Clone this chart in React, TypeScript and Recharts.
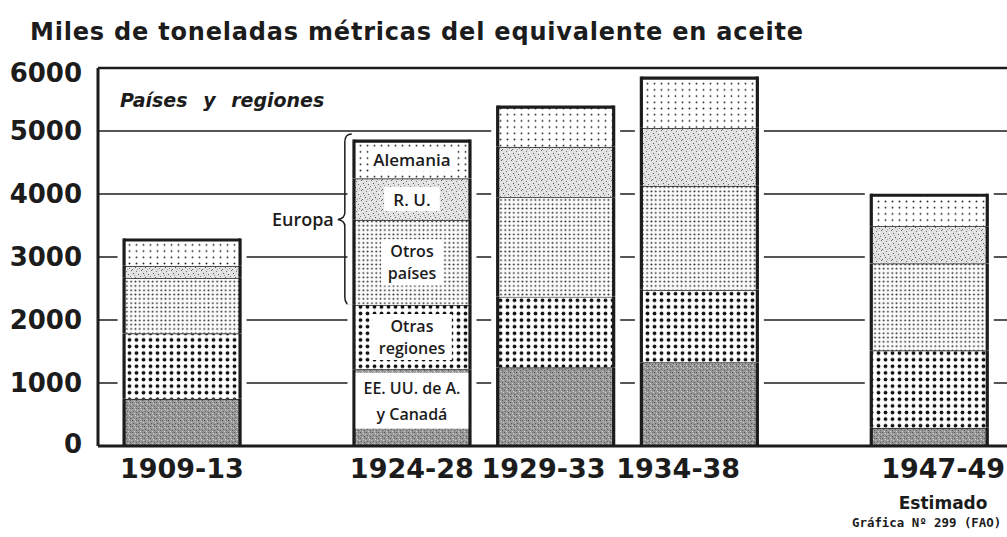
import React from 'react';
import {
  BarChart,
  Bar,
  XAxis,
  YAxis,
  CartesianGrid,
  ReferenceLine,
  ReferenceArea,
  LabelList,
} from 'recharts';

// ---------- data ----------
const periods = ['1909-13', '1924-28', '1929-33', '1934-38', '1947-49'];
const periodNotes = ['', '', '', '', 'Estimado'];
const eeuuCanada = [750, 1220, 1250, 1330, 290];
const otrasRegiones = [1040, 1020, 1120, 1150, 1230];
const otrosPaises = [880, 1350, 1580, 1650, 1380];
const reinoUnido = [190, 660, 800, 920, 590];
const alemania = [410, 590, 630, 790, 490];
const yTicks = [0, 1000, 2000, 3000, 4000, 5000, 6000];

// layout: slot of each period along the horizontal axis (uneven spacing)
const periodSlots = [0, 8, 13, 18, 26];
// layout: horizontal nudge of each period label (px)
const labelNudge = [0, 0, -12, -21, 14];
const labelledPeriod = '1924-28';

const data = periods.map((p, i) => ({
  slot: periodSlots[i],
  period: p,
  us: eeuuCanada[i],
  or: otrasRegiones[i],
  op: otrosPaises[i],
  ru: reinoUnido[i],
  al: alemania[i],
}));

const BAR_SIZE = 116;
const INK = '#1c1c1c';
const LABEL_FONT = '"Open Sans", "DejaVu Sans", sans-serif';
const BOLD_FONT = '"DejaVu Sans", sans-serif';

const LABELLED = periods.indexOf(labelledPeriod);

const textWidth = (s: string, fs: number) => s.length * fs * 0.56;

const makeShape = (fill: string, isTop: boolean, isBottom: boolean) => (props: any) => {
  const { x, y, width, height } = props;
  if (x == null || y == null || !width || height == null) return <g />;
  const gap = 5;
  const top = isTop ? y - gap : y;
  const bottom = isBottom ? y + height - 2 : y + height;
  return (
    <g>
      <rect x={x - gap - 1.5} y={top} width={width + 2 * gap + 3} height={Math.max(0, bottom - top)} fill="#fff" />
      <rect x={x} y={y} width={width} height={height} fill={fill} />
      <line x1={x} x2={x + width} y1={y} y2={y} stroke={INK} strokeWidth={isTop ? 3.2 : 1.8} />
      <line x1={x} x2={x} y1={y - (isTop ? 1.6 : 0)} y2={y + height} stroke={INK} strokeWidth={3.2} />
      <line x1={x + width} x2={x + width} y1={y - (isTop ? 1.6 : 0)} y2={y + height} stroke={INK} strokeWidth={3.2} />
    </g>
  );
};

const makeLabel = (lines: string[], fullBox: boolean) => (props: any) => {
  const { x, y, width, height, index } = props;
  if (index !== LABELLED) return null;
  const fs = lines.length > 1 ? 16 : 17;
  const lh = fullBox ? 26 : 22;
  const cx = x + width / 2;
  const cy = fullBox ? y + height * 0.41 : y + height / 2;
  const maxW = Math.max(...lines.map((l) => textWidth(l, fs)));
  const boxW = fullBox ? width - 3.2 : maxW + 8;
  const boxH = fullBox ? lines.length * lh + 4 : lines.length * lh + 2;
  return (
    <g>
      <rect x={cx - boxW / 2} y={cy - boxH / 2} width={boxW} height={boxH} fill="#fff" />
      {lines.map((l, i) => (
        <text
          key={i}
          x={cx}
          y={cy - ((lines.length - 1) * lh) / 2 + i * lh}
          textAnchor="middle"
          dominantBaseline="central"
          fontFamily={LABEL_FONT}
          fontSize={fs}
          fontWeight={600}
          fill={INK}
        >
          {l}
        </text>
      ))}
    </g>
  );
};

const series = [
  { key: 'us', fill: 'url(#pUS)', lines: ['EE. UU. de A.', 'y Canadá'], full: true },
  { key: 'or', fill: 'url(#pOR)', lines: ['Otras', 'regiones'], full: false },
  { key: 'op', fill: 'url(#pOP)', lines: ['Otros', 'países'], full: false },
  { key: 'ru', fill: 'url(#pRU)', lines: ['R. U.'], full: false },
  { key: 'al', fill: 'url(#pAL)', lines: ['Alemania'], full: false },
];

const PeriodTick = (props: any) => {
  const { x, y, payload } = props;
  const i = periodSlots.indexOf(payload.value);
  if (i < 0) return null;
  const lx = x + labelNudge[i];
  return (
    <g>
      <text x={lx} y={y + 24} textAnchor="middle" fontFamily={BOLD_FONT} fontWeight="bold" fontSize={27} fill={INK}>
        {periods[i]}
      </text>
      {periodNotes[i] ? (
        <text x={lx} y={y + 55} textAnchor="middle" fontFamily={BOLD_FONT} fontWeight="bold" fontSize={17} fill={INK}>
          {periodNotes[i]}
        </text>
      ) : null}
    </g>
  );
};

const EuropaBrace = (props: any) => {
  const { x, y, width, height } = props;
  if (x == null) return null;
  const barLeft = x + width - BAR_SIZE / 2;
  const bx = barLeft - 9;
  const top = y - 7;
  const bottom = y + height;
  const mid = (top + bottom) / 2;
  const d = `M ${bx + 7} ${top} Q ${bx} ${top} ${bx} ${top + 8} L ${bx} ${mid - 7} Q ${bx} ${mid - 1} ${bx - 7} ${mid} Q ${bx} ${mid + 1} ${bx} ${mid + 7} L ${bx} ${bottom - 8} Q ${bx} ${bottom} ${bx + 7} ${bottom}`;
  return (
    <g>
      <path d={d} fill="none" stroke={INK} strokeWidth={1.5} />
      <text x={bx - 11} y={mid} textAnchor="end" dominantBaseline="central" fontFamily={LABEL_FONT} fontWeight={600} fontSize={18} fill={INK}>
        Europa
      </text>
    </g>
  );
};

const YTick = (props: any) => {
  const { x, y, payload } = props;
  const dy = payload.value === 6000 ? 5 : payload.value === 0 ? -2 : 0;
  return (
    <text x={x} y={y + dy} textAnchor="end" dominantBaseline="central" fontFamily={BOLD_FONT} fontWeight="bold" fontSize={26} fill={INK}>
      {payload.value}
    </text>
  );
};

export default function App() {
  const brY1 = eeuuCanada[LABELLED] + otrasRegiones[LABELLED];
  const brY2 = brY1 + otrosPaises[LABELLED] + reinoUnido[LABELLED] + alemania[LABELLED];
  return (
    <div style={{ position: 'absolute', left: 0, top: 0, width: 1007, height: 537, overflow: 'hidden', background: '#fff' }}>
      <div
        style={{
          position: 'absolute',
          left: 30,
          top: 17,
          fontFamily: BOLD_FONT,
          fontWeight: 'bold',
          fontSize: 24,
          letterSpacing: 0.8,
          color: INK,
          whiteSpace: 'nowrap',
          lineHeight: '30px',
        }}
      >
        Miles de toneladas métricas del equivalente en aceite
      </div>
      <BarChart width={1007} height={537} data={data} margin={{ top: 68, right: 0, bottom: 51, left: 0 }}>
        <defs>
          <pattern id="pUS" width="6" height="6" patternUnits="userSpaceOnUse">
            <rect width="6" height="6" fill="#989898" />
            <rect x="0" y="0" width="1" height="1" fill="#555" />
            <rect x="3" y="1" width="1" height="1" fill="#d2d2d2" />
            <rect x="1" y="3" width="1" height="1" fill="#606060" />
            <rect x="4" y="4" width="1" height="1" fill="#555" />
            <rect x="5" y="2" width="1" height="1" fill="#c6c6c6" />
            <rect x="2" y="5" width="1" height="1" fill="#cfcfcf" />
            <rect x="4" y="0" width="1" height="1" fill="#707070" />
          </pattern>
          <pattern id="pOR" width="7" height="6.6" patternUnits="userSpaceOnUse">
            <rect width="7" height="6.6" fill="#fff" />
            <circle cx="3.5" cy="3.3" r="1.9" fill="#111" />
          </pattern>
          <pattern id="pOP" width="4.3" height="4.3" patternUnits="userSpaceOnUse">
            <rect width="4.3" height="4.3" fill="#fbfbfb" />
            <circle cx="2.15" cy="2.15" r="0.95" fill="#222" />
          </pattern>
          <pattern id="pRU" width="10" height="10" patternUnits="userSpaceOnUse">
            <rect width="10" height="10" fill="#e2e2e2" />
            <rect x="1" y="0" width="1" height="1" fill="#666" />
            <rect x="6" y="1" width="1" height="1" fill="#777" />
            <rect x="3" y="3" width="1" height="1" fill="#555" />
            <rect x="8" y="4" width="1" height="1" fill="#666" />
            <rect x="0" y="6" width="1" height="1" fill="#777" />
            <rect x="5" y="7" width="1" height="1" fill="#555" />
            <rect x="9" y="8" width="1" height="1" fill="#888" />
            <rect x="2" y="9" width="1" height="1" fill="#666" />
            <rect x="7" y="9" width="1" height="1" fill="#aaa" />
            <rect x="4" y="5" width="1" height="1" fill="#999" />
            <rect x="9" y="2" width="1" height="1" fill="#fff" />
            <rect x="2" y="7" width="1" height="1" fill="#fff" />
          </pattern>
          <pattern id="pAL" width="7" height="6.2" patternUnits="userSpaceOnUse">
            <rect width="7" height="6.2" fill="#fff" />
            <circle cx="3.5" cy="3.1" r="0.95" fill="#222" />
          </pattern>
        </defs>
        <CartesianGrid vertical={false} stroke={INK} strokeWidth={1.4} />
        <ReferenceLine y={6000} stroke={INK} strokeWidth={2.6} />
        <XAxis
          type="number"
          dataKey="slot"
          domain={[-2.92, 28.71]}
          ticks={periodSlots}
          interval={0}
          allowDataOverflow
          tick={<PeriodTick />}
          tickLine={false}
          axisLine={{ stroke: INK, strokeWidth: 3 }}
          height={40}
        />
        <YAxis
          type="number"
          domain={[0, 6000]}
          ticks={yTicks}
          interval={0}
          width={98}
          tickLine={false}
          tickMargin={10}
          axisLine={{ stroke: INK, strokeWidth: 3 }}
          tick={<YTick />}
        />
        {series.map((s, i) => (
          <Bar
            key={s.key}
            dataKey={s.key}
            stackId="a"
            barSize={BAR_SIZE}
            isAnimationActive={false}
            shape={makeShape(s.fill, i === series.length - 1, i === 0)}
          >
            <LabelList dataKey={s.key} content={makeLabel(s.lines, s.full)} />
          </Bar>
        ))}
        <ReferenceArea
          x1={periodSlots[LABELLED] - 1}
          x2={periodSlots[LABELLED]}
          y1={brY1}
          y2={brY2}
          ifOverflow="visible"
          shape={<EuropaBrace />}
        />
      </BarChart>
      <div
        style={{
          position: 'absolute',
          left: 120,
          top: 88,
          fontFamily: BOLD_FONT,
          fontWeight: 'bold',
          fontStyle: 'italic',
          fontSize: 19,
          color: INK,
          whiteSpace: 'nowrap',
          wordSpacing: 9,
          lineHeight: '24px',
        }}
      >
        Países y regiones
      </div>
      <div
        style={{
          position: 'absolute',
          left: 852,
          top: 515,
          fontFamily: '"DejaVu Sans Mono", monospace',
          fontWeight: 'bold',
          fontSize: 12.4,
          color: INK,
          whiteSpace: 'nowrap',
          lineHeight: '16px',
        }}
      >
        Gráfica Nº 299 (FAO)
      </div>
    </div>
  );
}
